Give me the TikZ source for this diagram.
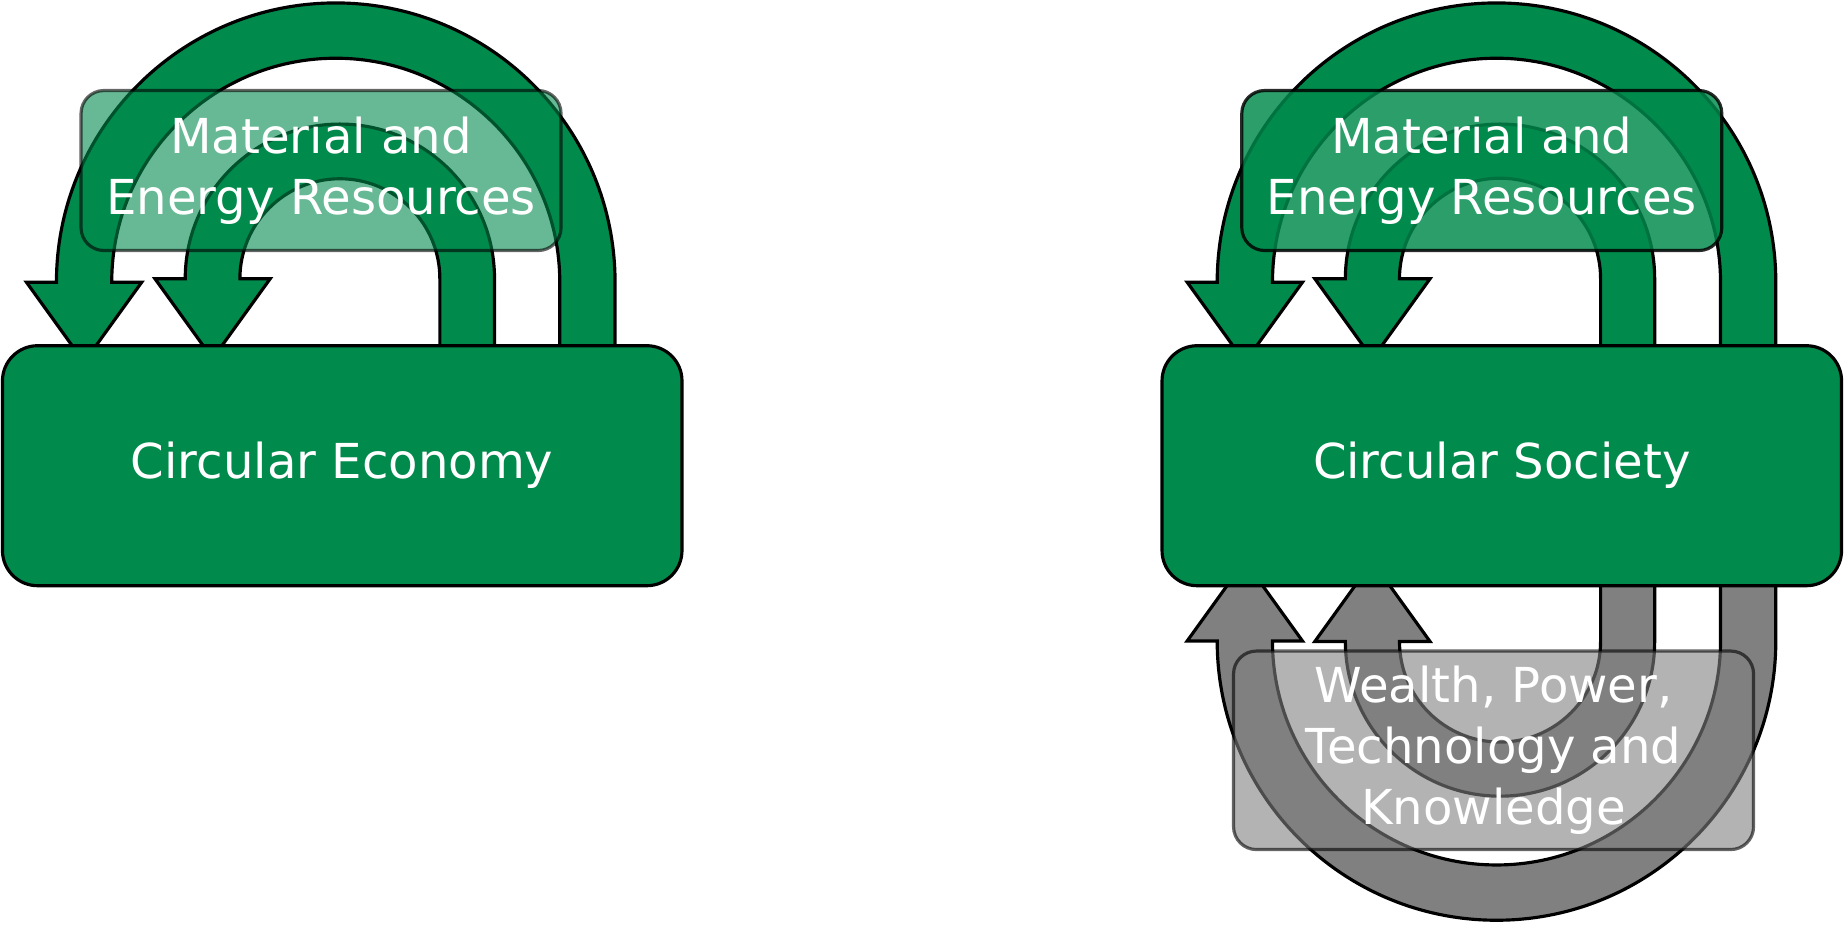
\documentclass[tikz,border=0pt]{standalone}
\usepackage{fontspec}
\setmainfont{DejaVu Sans}
\usetikzlibrary{backgrounds}
\definecolor{cegreen}{RGB}{0,138,76}
\definecolor{loopgray}{RGB}{128,128,128}

\begin{document}
\begin{tikzpicture}[x=0.2352mm,y=-0.2352mm,
    every node/.style={text=white,font=\fontsize{27.4}{34.5}\selectfont,align=center,inner sep=0pt},
    mainbox/.style={draw,line width=1.8pt,fill=cegreen,rounded corners=20pt,
      minimum width=135.9mm,minimum height=48mm},
    resbox/.style={draw,line width=1.8pt,rounded corners=13pt,text opacity=1},
    loopband/.style={draw,line width=1.8pt}]
    \useasboundingbox (0,0) rectangle (1568,786);
    \node[mainbox] (ce) at (291,396) {Circular Economy};
    \node[mainbox] (cs) at (1277,396) {Circular Society};
    \node[resbox,fill=cegreen,opacity=0.6,minimum width=96mm,minimum height=32mm]
      (res1) at (273,145) {Material and\\Energy Resources};
    \node[resbox,fill=cegreen,opacity=0.83,minimum width=96mm,minimum height=32mm]
      (res2) at (1260,145) {Material and\\Energy Resources};
    \node[resbox,fill=loopgray,opacity=0.6,minimum width=104mm,minimum height=39.7mm]
      (wealth) at (1270,638) {Wealth, Power,\\Technology and\\Knowledge};
    % loops behind the boxes
    \begin{scope}[on background layer]
      \foreach \cx/\cy/\ro/\ri/\dir/\col in {285.5/240/237.5/190.5/1/cegreen,
          289/237/131.5/85/1/cegreen,
          1272.5/240/237.5/190.5/1/cegreen,
          1275.5/237/131.5/85.5/1/cegreen,
          1272.5/545/237.5/190.5/-1/loopgray,
          1275.5/545.5/131.5/85.5/-1/loopgray}
        \draw[loopband,fill=\col] ({\cx-\ro},\cy)
          arc[start angle=180,end angle={180+180*\dir},radius=\ro]
          -- ({\cx+\ro},{\cy+70*\dir}) -- ({\cx+\ri},{\cy+70*\dir}) -- ({\cx+\ri},\cy)
          arc[start angle={180+180*\dir},end angle=180,radius=\ri]
          -- ({\cx-(\ro+\ri)/2+49},\cy) -- ({\cx-(\ro+\ri)/2},{\cy+68*\dir})
          -- ({\cx-(\ro+\ri)/2-49},\cy) -- cycle;
    \end{scope}
\end{tikzpicture}
\end{document}
